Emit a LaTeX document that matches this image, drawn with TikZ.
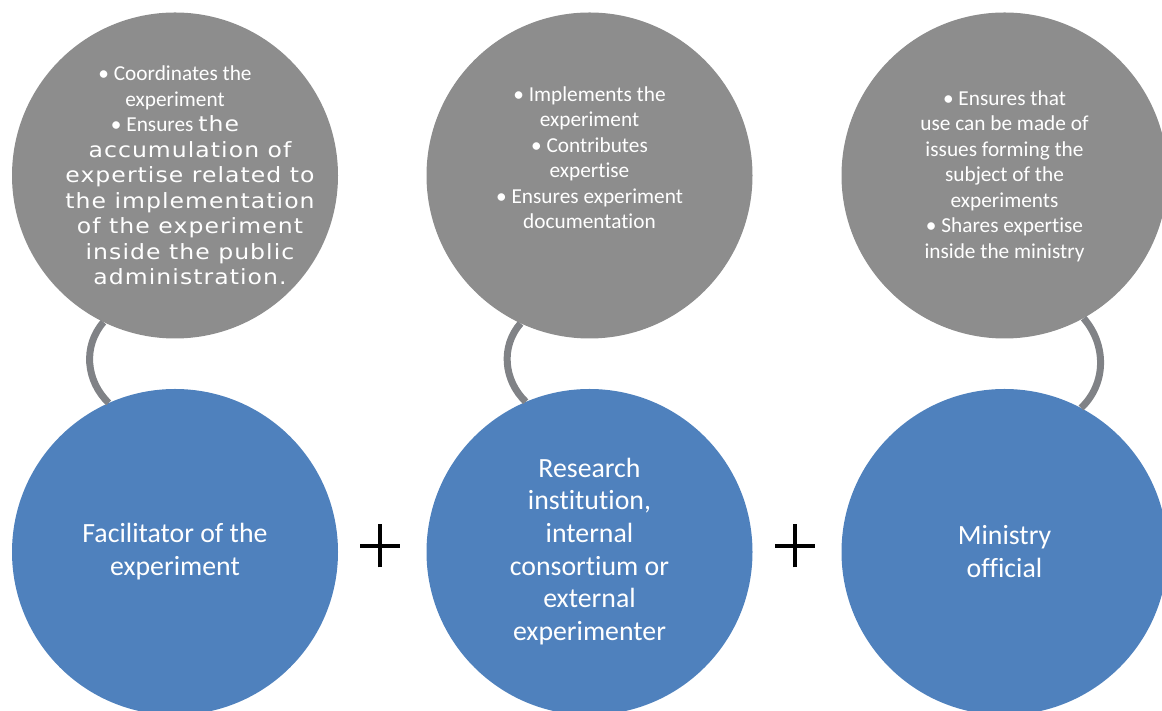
\documentclass[tikz,border=0pt]{standalone}
\usepackage{fontspec}
\setmainfont[Ligatures=NoCommon]{Carlito}
\newfontfamily\widefont[LetterSpace=5,FakeStretch=1.12]{DejaVu Sans}
\usetikzlibrary{calc}
\definecolor{grayfill}{RGB}{141,141,141}
\definecolor{bluefill}{RGB}{79,129,189}
\definecolor{linkgray}{RGB}{128,130,134}
\begin{document}
\begin{tikzpicture}[x=1pt,y=1pt,
  graycirc/.style={circle,fill=grayfill,minimum size=326pt,inner sep=0pt},
  bluecirc/.style={circle,fill=bluefill,minimum size=326pt,inner sep=0pt},
  graytext/.style={text=white,align=center,inner sep=0pt,font=\fontsize{21.3}{25.5}\selectfont},
  bluetext/.style={text=white,align=center,inner sep=0pt,font=\fontsize{27.8}{32.7}\selectfont},
  wide/.style={font=\widefont\fontsize{21}{25.5}\selectfont},
  link/.style={draw=linkgray,line width=7pt},
  plusline/.style={draw=black,line width=4pt}]
\useasboundingbox (0,0) rectangle (1162,711);
\clip (0,0) rectangle (1162,711);

% gray circles
\node[graycirc] (g1) at (175,535.5) {};
\node[graycirc] (g2) at (589.5,535.5) {};
\node[graycirc] (g3) at (1004.5,535.5) {};
% blue circles
\node[bluecirc] (b1) at (175,159) {};
\node[bluecirc] (b2) at (589.5,159) {};
\node[bluecirc] (b3) at (1004.5,159) {};

% gray texts
\node[graytext] (g1t) at (175,535.5) {%
• Coordinates the\\
experiment\\
• Ensures {\widefont\fontsize{21}{25.5}\selectfont the}\\
\hspace*{30pt}{\widefont\fontsize{21}{25.5}\selectfont accumulation of}\\
\hspace*{30pt}{\widefont\fontsize{21}{25.5}\selectfont expertise related to}\\
\hspace*{30pt}{\widefont\fontsize{21}{25.5}\selectfont the implementation}\\
\hspace*{30pt}{\widefont\fontsize{21}{25.5}\selectfont of the experiment}\\
\hspace*{30pt}{\widefont\fontsize{21}{25.5}\selectfont inside the public}\\
\hspace*{30pt}{\widefont\fontsize{21}{25.5}\selectfont administration.}};
\node[graytext] (g2t) at (589.5,553.5) {%
• Implements the\\
experiment\\
• Contributes\\
expertise\\
• Ensures experiment\\
documentation};
\node[graytext] (g3t) at (1004.5,535) {%
• Ensures that\\
use can be made of\\
issues forming the\\
subject of the\\
experiments\\
• Shares expertise\\
inside the ministry};

% blue texts
\node[bluetext] (b1t) at (175,159.5) {Facilitator of the\\experiment};
\node[bluetext] (b2t) at (589.5,159.5) {Research\\institution,\\internal\\consortium or\\external\\experimenter};
\node[bluetext] (b3t) at (1004.5,159.5) {Ministry\\official};

% links
\draw[link] (g1.244) to[out=229,in=136] (b1.114);
\draw[link] (g2.245) to[out=229,in=136] (b2.113);
\draw[link] (g3.299.5) to[out=-49,in=43.5] (b3.62.8);

% plus signs
\coordinate (p1) at (380,165);
\coordinate (p2) at (795,165);
\draw[plusline] ($(p1)+(-20,0)$) -- ($(p1)+(20,0)$);
\draw[plusline] ($(p1)+(0,-21.5)$) -- ($(p1)+(0,21.5)$);
\draw[plusline] ($(p2)+(-20,0)$) -- ($(p2)+(20,0)$);
\draw[plusline] ($(p2)+(0,-21.5)$) -- ($(p2)+(0,21.5)$);
\end{tikzpicture}
\end{document}
